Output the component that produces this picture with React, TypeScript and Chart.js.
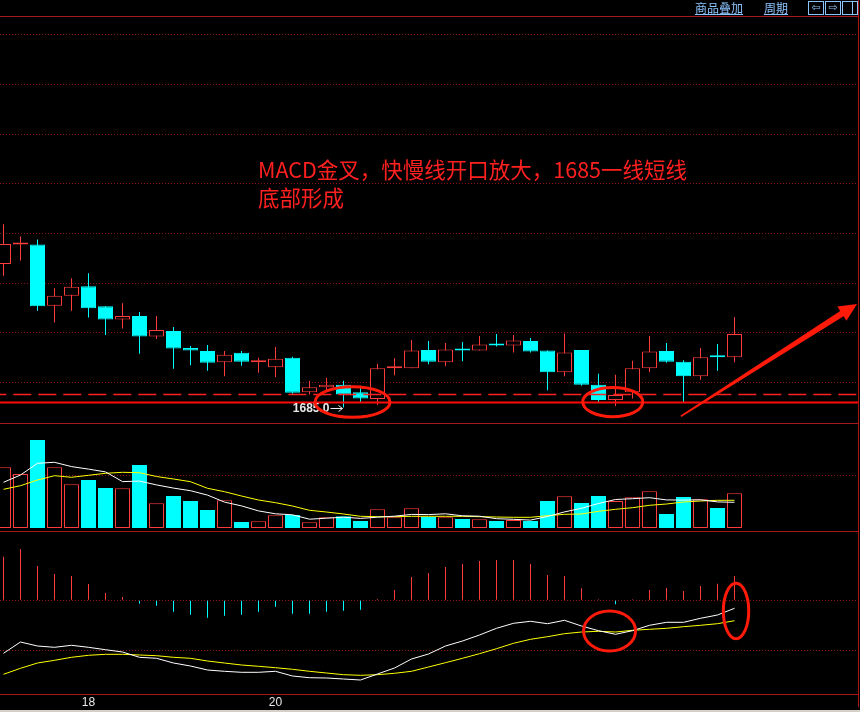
import React, { useEffect, useRef } from 'react';
import { Chart, registerables } from 'chart.js';

Chart.register(...registerables);

// ---------- data ----------
const dateIndex = [5, 16];
const dateLabels = ['18', '20'];

const opens = [1713.9, 1717.8, 1717.8, 1705.5, 1707.5, 1709.4, 1705.4, 1702.7, 1703.4, 1699.3, 1700.4, 1697.0, 1696.4, 1694.1, 1696.0, 1694.1, 1693.1, 1695.0, 1688.1, 1689.1, 1689.6, 1688.1, 1686.7, 1692.9, 1692.9, 1696.6, 1694.1, 1696.7, 1696.5, 1697.9, 1697.5, 1698.4, 1696.5, 1692.1, 1696.6, 1689.6, 1686.5, 1688.1, 1692.9, 1696.4, 1694.2, 1691.3, 1695.3, 1695.1];
const highs = [1721.9, 1719.4, 1718.8, 1709.0, 1711.0, 1712.0, 1705.4, 1706.0, 1704.2, 1703.4, 1701.2, 1697.4, 1697.6, 1696.4, 1696.4, 1695.0, 1697.2, 1695.2, 1690.4, 1691.0, 1690.4, 1689.4, 1693.8, 1694.9, 1698.6, 1698.4, 1698.0, 1698.2, 1699.4, 1699.8, 1699.6, 1699.0, 1696.5, 1699.9, 1696.6, 1691.8, 1691.6, 1694.4, 1699.4, 1698.0, 1694.5, 1697.0, 1697.8, 1703.2];
const lows = [1711.5, 1714.6, 1704.5, 1702.1, 1704.5, 1703.1, 1699.6, 1700.9, 1695.8, 1698.8, 1692.8, 1693.5, 1692.4, 1691.3, 1693.4, 1692.0, 1691.1, 1687.8, 1687.6, 1688.4, 1685.0, 1685.9, 1685.5, 1691.5, 1692.9, 1693.7, 1693.3, 1694.3, 1696.5, 1697.3, 1696.1, 1696.1, 1688.5, 1691.3, 1689.4, 1685.9, 1685.3, 1686.8, 1692.1, 1694.0, 1685.9, 1690.6, 1692.4, 1694.1];
const closes = [1717.9, 1717.9, 1705.4, 1707.5, 1709.3, 1705.0, 1702.7, 1703.4, 1699.3, 1700.6, 1696.9, 1696.5, 1694.0, 1695.6, 1694.2, 1694.5, 1694.8, 1688.0, 1689.1, 1689.6, 1687.6, 1686.8, 1692.9, 1693.2, 1696.5, 1694.2, 1696.7, 1696.5, 1697.7, 1697.5, 1698.5, 1696.3, 1692.1, 1696.1, 1689.6, 1686.5, 1687.5, 1692.9, 1696.3, 1694.2, 1691.3, 1695.1, 1695.1, 1699.8];

const volumes = [60700, 54000, 88000, 60700, 43700, 48000, 40000, 39700, 63000, 24700, 32000, 27000, 18000, 27700, 6000, 6700, 12700, 13000, 5700, 10700, 11700, 7000, 18700, 10700, 19700, 11000, 10700, 9000, 8700, 7000, 8000, 7000, 27000, 31700, 25000, 32000, 27000, 30700, 36700, 14000, 31000, 28700, 20000, 34700];
const volMa5 = [45700, 53000, 64700, 65700, 61400, 58900, 56100, 46400, 46900, 43100, 39900, 37300, 32900, 25900, 22100, 17100, 14200, 13200, 8800, 9800, 10800, 9600, 10800, 11800, 13600, 13400, 14200, 12200, 11800, 9300, 8700, 7900, 11500, 16100, 19700, 24500, 28500, 29300, 30300, 28100, 27900, 28200, 26100, 25700];
const volMa10 = [38700, 42300, 48000, 52300, 50700, 52700, 54700, 55700, 55300, 51500, 49000, 46300, 39700, 36300, 32000, 28000, 25300, 22000, 17700, 16000, 14000, 11700, 11300, 11300, 11700, 11700, 11700, 11700, 11300, 11000, 10700, 10700, 12300, 13700, 14000, 16700, 18700, 20300, 22700, 24000, 26000, 27000, 27700, 27700];

const macdHist = [4.36, 5.13, 3.43, 2.63, 2.43, 1.63, 0.73, 0.33, -0.34, -0.54, -1.14, -1.44, -1.74, -1.54, -1.44, -1.14, -0.64, -1.34, -1.34, -1.14, -1.04, -0.94, 0.13, 1.03, 2.33, 2.73, 3.33, 3.63, 3.93, 4.03, 4.03, 3.63, 2.53, 2.43, 1.20, 0.03, -0.40, 0.03, 1.03, 1.23, 0.93, 1.43, 1.66, 2.43];
const macdDif = [-5.30, -4.17, -4.57, -4.70, -4.50, -4.70, -4.94, -5.17, -5.70, -5.80, -6.27, -6.57, -6.97, -7.10, -7.20, -7.20, -7.10, -7.57, -7.74, -7.77, -7.87, -7.97, -7.37, -6.77, -5.87, -5.37, -4.57, -4.07, -3.47, -2.80, -2.30, -2.10, -2.34, -2.00, -2.57, -3.04, -3.40, -3.04, -2.50, -2.20, -2.20, -1.80, -1.47, -0.80];
const macdDea = [-7.40, -6.80, -6.27, -6.00, -5.70, -5.50, -5.40, -5.40, -5.47, -5.54, -5.70, -5.80, -6.07, -6.27, -6.47, -6.60, -6.74, -6.90, -7.10, -7.27, -7.44, -7.50, -7.44, -7.30, -7.10, -6.67, -6.24, -5.80, -5.34, -4.84, -4.30, -3.90, -3.64, -3.34, -3.17, -3.10, -3.17, -3.00, -2.90, -2.80, -2.64, -2.50, -2.34, -2.04];

const priceGrid = [1690, 1700, 1710, 1720, 1730, 1740, 1750, 1760];
const volumeGrid = [52000];
const macdGrid = [0, -5];

const supportLevel = 1686.0;
const dashLevel = 1687.6;
const lowMarkIndex = 20;
const noteLines = ['MACD金叉，快慢线开口放大，1685一线短线', '底部形成'];

// ---------- annotation placement (data coordinates) ----------
const notePos = { x: 14.97, y: [1732.8, 1727.2] };
const priceCircles = [
  { x: 20.53, y: 1686.12, rx: 37.5, ry: 15.3 },
  { x: 35.84, y: 1686.1, rx: 30, ry: 14.7 },
];
const macdCircles = [
  { x: 35.65, y: -3.07, rx: 26, ry: 20 },
  { x: 43.09, y: -1.07, rx: 12.7, ry: 27.7 },
];
const trendArrow = { from: { x: 39.85, y: 1683.24 }, to: { x: 50.21, y: 1705.84 } };

// ---------- styles ----------
const X_MIN = -0.206;
const X_MAX = 50.265;
const FRAME = '#a81818';
const GRID = '#8c1414';
const UP = '#ff3c3c';
const DOWN = '#00ffff';
const MARK = '#ff1a0a';

const idx = opens.map((_, i) => i);
const isUp = idx.map((i) => closes[i] >= opens[i]);

const xScale = (extra: any = {}) => ({
  type: 'linear',
  min: X_MIN,
  max: X_MAX,
  offset: false,
  bounds: 'data',
  display: false,
  grid: { display: false, drawTicks: false },
  border: { display: false },
  ...extra,
});

const yScale = (min: number, max: number, gridVals: number[]) => ({
  type: 'linear',
  min,
  max,
  bounds: 'data',
  position: 'left',
  ticks: { display: false },
  grid: { color: GRID, lineWidth: 1, drawTicks: false },
  border: { display: false, dash: [1, 2] },
  afterBuildTicks: (s: any) => {
    s.ticks = gridVals.map((v) => ({ value: v }));
  },
});

const baseOptions = (scales: any, padding: any) => ({
  responsive: false,
  animation: false,
  events: [],
  layout: { padding },
  plugins: { legend: { display: false }, tooltip: { enabled: false } },
  scales,
});

const drawEllipses = (ctx: any, xs: any, ys: any, list: any[]) => {
  ctx.strokeStyle = MARK;
  ctx.lineWidth = 3;
  list.forEach((c) => {
    ctx.beginPath();
    ctx.ellipse(xs.getPixelForValue(c.x), ys.getPixelForValue(c.y), c.rx, c.ry, 0, 0, Math.PI * 2);
    ctx.stroke();
  });
};

const mainDecor = {
  id: 'mainDecor',
  afterDatasetsDraw(chart: any) {
    const { ctx, chartArea } = chart;
    const xs = chart.scales.x;
    const ys = chart.scales.y;
    ctx.save();
    ctx.fillStyle = FRAME;
    ctx.fillRect(0, chartArea.top - 1, chartArea.right, 1);

    // lowest price marker
    const tipX = Math.round(xs.getPixelForValue(lowMarkIndex)) - 0.5;
    const tipY = Math.round(ys.getPixelForValue(lows[lowMarkIndex])) + 0.5;
    ctx.strokeStyle = '#e8e8e8';
    ctx.fillStyle = '#e8e8e8';
    ctx.lineWidth = 1;
    ctx.beginPath();
    ctx.moveTo(tipX - 12, tipY);
    ctx.lineTo(tipX, tipY);
    ctx.moveTo(tipX - 4, tipY - 3);
    ctx.lineTo(tipX, tipY);
    ctx.lineTo(tipX - 4, tipY + 3);
    ctx.stroke();
    ctx.font = 'bold 12px "Liberation Sans", Arial, sans-serif';
    ctx.textAlign = 'right';
    ctx.textBaseline = 'middle';
    ctx.fillText(lows[lowMarkIndex].toFixed(1), tipX - 13, tipY);

    // note text
    ctx.fillStyle = '#ff2020';
    ctx.font = '21.5px "Noto Sans CJK SC", sans-serif';
    ctx.textAlign = 'left';
    noteLines.forEach((t, k) => {
      ctx.fillText(t, xs.getPixelForValue(notePos.x), ys.getPixelForValue(notePos.y[k]));
    });

    drawEllipses(ctx, xs, ys, priceCircles);

    // trend arrow
    const sx = xs.getPixelForValue(trendArrow.from.x);
    const sy = ys.getPixelForValue(trendArrow.from.y);
    const tx = xs.getPixelForValue(trendArrow.to.x);
    const ty = ys.getPixelForValue(trendArrow.to.y);
    const len = Math.hypot(tx - sx, ty - sy);
    const ux = (tx - sx) / len;
    const uy = (ty - sy) / len;
    const nx = -uy;
    const ny = ux;
    const headLen = 18;
    const bx = tx - ux * headLen;
    const by = ty - uy * headLen;
    const pts = [
      [sx + nx * 0.8, sy + ny * 0.8],
      [bx + nx * 3.2, by + ny * 3.2],
      [bx + nx * 8.5, by + ny * 8.5],
      [tx, ty],
      [bx - nx * 8.5, by - ny * 8.5],
      [bx - nx * 3.2, by - ny * 3.2],
      [sx - nx * 0.8, sy - ny * 0.8],
    ];
    ctx.fillStyle = MARK;
    ctx.beginPath();
    pts.forEach((p, k) => (k ? ctx.lineTo(p[0], p[1]) : ctx.moveTo(p[0], p[1])));
    ctx.closePath();
    ctx.fill();
    ctx.restore();
  },
};

const volDecor = {
  id: 'volDecor',
  afterDatasetsDraw(chart: any) {
    const { ctx, chartArea } = chart;
    ctx.save();
    ctx.fillStyle = FRAME;
    ctx.fillRect(0, chartArea.top, chartArea.right, 1);
    ctx.restore();
  },
};

const macdDecor = {
  id: 'macdDecor',
  afterDatasetsDraw(chart: any) {
    const { ctx, chartArea } = chart;
    ctx.save();
    ctx.fillStyle = FRAME;
    ctx.fillRect(0, chartArea.top, chartArea.right, 1);
    ctx.fillRect(0, Math.round(chartArea.bottom), chartArea.right, 1);
    drawEllipses(ctx, chart.scales.x, chart.scales.y, macdCircles);
    ctx.restore();
  },
};

const lineDs = (values: number[], color: string) => ({
  type: 'line',
  data: idx.map((i) => ({ x: i, y: values[i] })),
  borderColor: color,
  borderWidth: 1,
  pointRadius: 0,
  tension: 0,
  order: 0,
});

export default function App() {
  const mainRef = useRef<HTMLCanvasElement>(null);
  const volRef = useRef<HTMLCanvasElement>(null);
  const macdRef = useRef<HTMLCanvasElement>(null);

  useEffect(() => {
    Chart.defaults.font.family = '"Liberation Sans", Arial, sans-serif';

    const main = new Chart(mainRef.current as any, {
      type: 'bar',
      data: {
        datasets: [
          {
            type: 'line',
            data: [{ x: X_MIN, y: supportLevel }, { x: X_MAX, y: supportLevel }],
            borderColor: '#ff0a0a',
            borderWidth: 2,
            pointRadius: 0,
            order: 0,
          },
          {
            type: 'line',
            data: [{ x: X_MIN, y: dashLevel }, { x: X_MAX, y: dashLevel }],
            borderColor: '#ff2020',
            borderWidth: 1.5,
            borderDash: [18, 7],
            borderDashOffset: 11.7,
            pointRadius: 0,
            order: 0,
          },
          {
            type: 'bar',
            data: idx.map((i) => ({ x: i, y: [opens[i], closes[i]] })),
            backgroundColor: idx.map((i) => (isUp[i] ? '#000000' : DOWN)),
            borderColor: idx.map((i) => (isUp[i] ? UP : DOWN)),
            borderWidth: 1,
            borderSkipped: false,
            barThickness: 15,
            minBarLength: 2,
            inflateAmount: 0,
            grouped: false,
            order: 1,
          },
          {
            type: 'bar',
            data: idx.map((i) => ({ x: i, y: [lows[i], highs[i]] })),
            backgroundColor: idx.map((i) => (isUp[i] ? UP : DOWN)),
            borderWidth: 0,
            barThickness: 1,
            inflateAmount: 0,
            grouped: false,
            order: 2,
          },
        ],
      } as any,
      options: baseOptions(
        { x: xScale(), y: yScale(1681.89, 1763.58, priceGrid) },
        { top: 17, left: 0, right: 2, bottom: 0 }
      ) as any,
      plugins: [mainDecor],
    });

    const vol = new Chart(volRef.current as any, {
      type: 'bar',
      data: {
        datasets: [
          lineDs(volMa5, '#ffffff'),
          lineDs(volMa10, '#ffff00'),
          {
            type: 'bar',
            data: idx.map((i) => ({ x: i, y: volumes[i] })),
            backgroundColor: idx.map((i) => (isUp[i] ? '#000000' : DOWN)),
            borderColor: idx.map((i) => (isUp[i] ? UP : DOWN)),
            borderWidth: 1,
            borderSkipped: false,
            barThickness: 15,
            inflateAmount: 0,
            grouped: false,
            order: 1,
          },
        ],
      } as any,
      options: baseOptions(
        { x: xScale(), y: yScale(-3000, 105000, volumeGrid) },
        { top: 0, left: 0, right: 2, bottom: 0 }
      ) as any,
      plugins: [volDecor],
    });

    const macd = new Chart(macdRef.current as any, {
      type: 'bar',
      data: {
        datasets: [
          lineDs(macdDif, '#ffffff'),
          lineDs(macdDea, '#ffff00'),
          {
            type: 'bar',
            data: idx.map((i) => ({ x: i, y: macdHist[i] })),
            backgroundColor: idx.map((i) => (macdHist[i] >= 0 ? UP : DOWN)),
            borderWidth: 0,
            barThickness: 1,
            minBarLength: 1,
            inflateAmount: 0,
            grouped: false,
            order: 1,
          },
        ],
      } as any,
      options: baseOptions(
        {
          x: xScale({
            display: true,
            ticks: {
              color: '#e6e6e6',
              font: { size: 12 },
              padding: 1,
              maxRotation: 0,
              autoSkip: false,
              callback: (v: number) => {
                const k = dateIndex.indexOf(v);
                return k >= 0 ? dateLabels[k] : '';
              },
            },
            afterBuildTicks: (s: any) => {
              s.ticks = dateIndex.map((v) => ({ value: v }));
            },
          }),
          y: yScale(-9.37, 6.93, macdGrid),
        },
        { top: 0, left: 0, right: 2, bottom: 1.6 }
      ) as any,
      plugins: [macdDecor],
    });

    return () => {
      main.destroy();
      vol.destroy();
      macd.destroy();
    };
  }, []);

  const headerLink: React.CSSProperties = {
    position: 'absolute',
    top: 1,
    fontSize: 12,
    lineHeight: '14px',
    color: '#8cc4ff',
    textDecoration: 'underline',
    fontFamily: '"Noto Sans CJK SC", sans-serif',
    whiteSpace: 'nowrap',
  };
  const iconBox: React.CSSProperties = {
    position: 'absolute',
    top: 1,
    width: 14,
    height: 12,
    border: '1px solid #8cc4ff',
    color: '#8cc4ff',
    fontSize: 11,
    lineHeight: '12px',
    textAlign: 'center',
    fontFamily: '"DejaVu Sans", sans-serif',
    overflow: 'hidden',
  };

  return (
    <div
      style={{
        position: 'fixed',
        left: 0,
        top: 0,
        width: 860,
        height: 712,
        background: '#000',
        overflow: 'hidden',
      }}
    >
      <canvas ref={mainRef} width={860} height={423} style={{ position: 'absolute', left: 0, top: 0 }} />
      <canvas ref={volRef} width={860} height={108} style={{ position: 'absolute', left: 0, top: 423 }} />
      <canvas ref={macdRef} width={860} height={181} style={{ position: 'absolute', left: 0, top: 531 }} />
      <div style={{ ...headerLink, left: 695 }}>商品叠加</div>
      <div style={{ ...headerLink, left: 764 }}>周期</div>
      <div style={{ ...iconBox, left: 808 }}>⇦</div>
      <div style={{ ...iconBox, left: 825 }}>⇨</div>
      <div style={{ ...iconBox, left: 842 }}>
        <div style={{ position: 'absolute', left: 9, top: 0, width: 0, height: 12, borderLeft: '1px solid #8cc4ff' }} />
      </div>
      <div style={{ position: 'absolute', left: 858, top: 0, width: 1, height: 707, background: FRAME }} />
      <div style={{ position: 'absolute', left: 0, top: 710, width: 860, height: 2, background: '#d4d0c8' }} />
    </div>
  );
}
